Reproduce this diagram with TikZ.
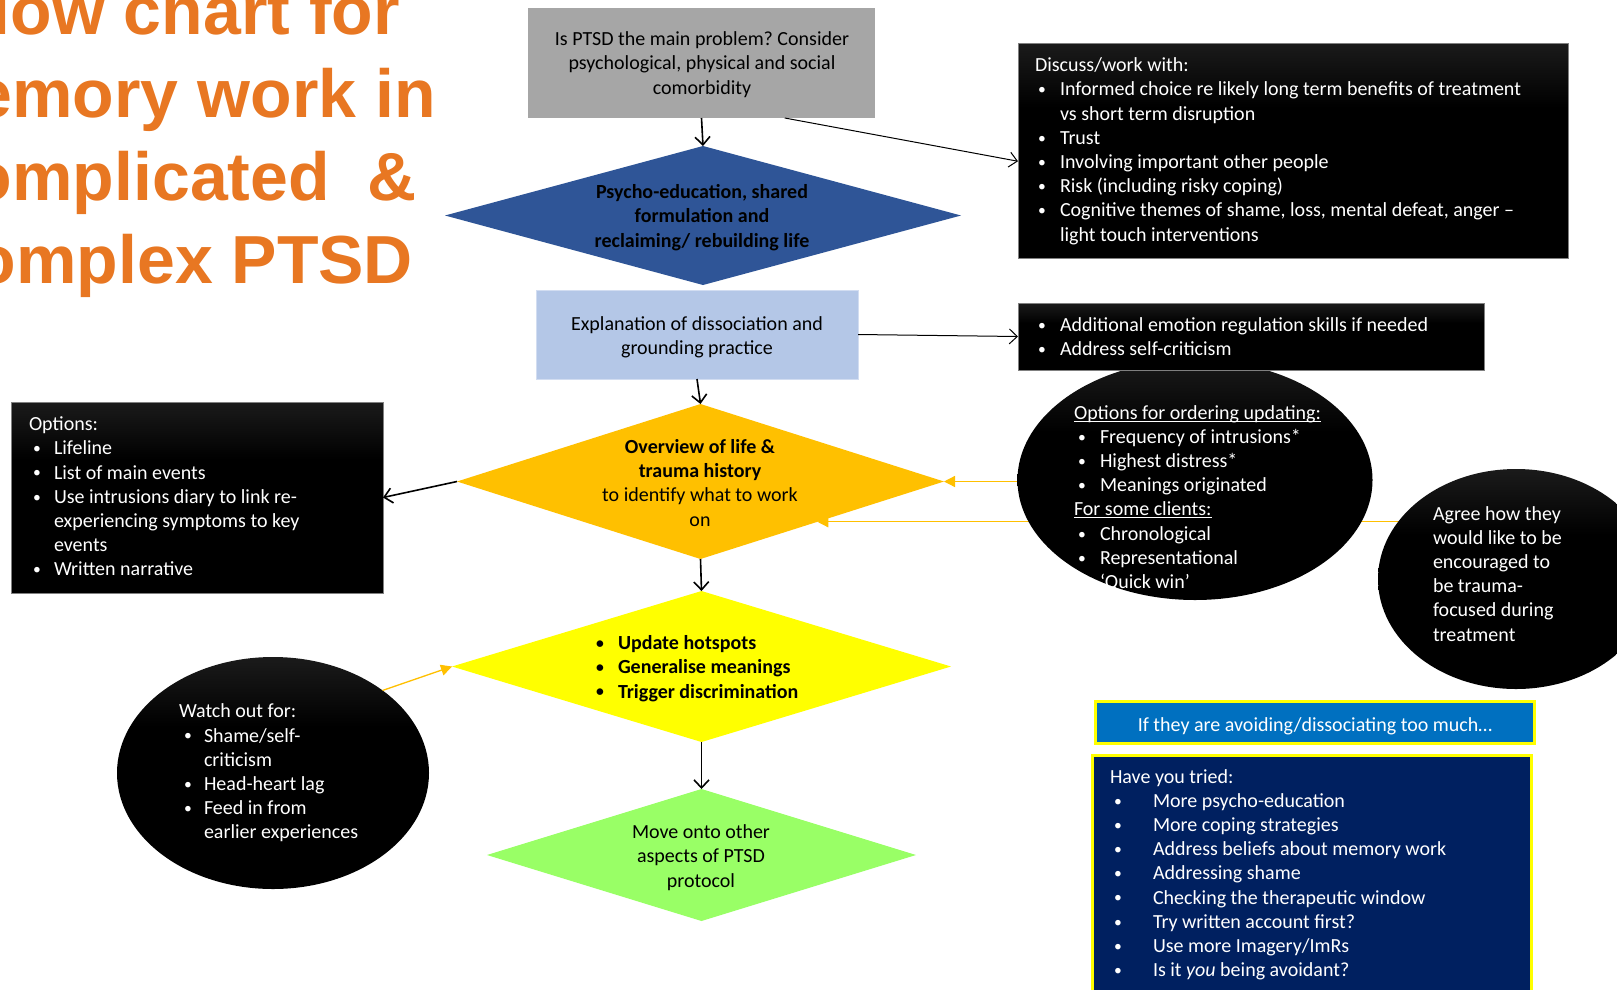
\documentclass[tikz,border=0pt]{standalone}
\usepackage{fontspec}
\setmainfont{Carlito}
\newfontfamily\titlefont{Liberation Sans}
\usetikzlibrary{shapes.geometric,arrows.meta,calc}
\frenchspacing
\definecolor{ttl}{HTML}{E87722}
\definecolor{grayb}{HTML}{A6A6A6}
\definecolor{blued}{HTML}{2F5597}
\definecolor{lblue}{HTML}{B4C7E7}
\definecolor{orng}{HTML}{FFC000}
\definecolor{yell}{HTML}{FFFF00}
\definecolor{grn}{HTML}{99FF66}
\definecolor{hblue}{HTML}{0070C0}
\definecolor{navy}{HTML}{002060}
\definecolor{dkg}{HTML}{474747}
\pgfdeclareverticalshading{blkgrad}{100bp}{color(0bp)=(black); color(60bp)=(black); color(100bp)=(dkg)}
\pgfdeclarelayer{bg}
\pgfdeclarelayer{lines}
\pgfsetlayers{bg,lines,main}
\newcommand\bu[1][22pt]{\makebox[#1][l]{\raisebox{0.12ex}{\scalebox{0.78}{•}}}}
\newcommand\myul[1]{\setbox0\hbox{#1}\rlap{\rule[-2.4pt]{\wd0}{1pt}}\box0}
\newcommand\tc[1]{\begin{tabular}{@{}c@{}}#1\end{tabular}}
\newcommand\tl[1]{\begin{tabular}{@{}l@{}}#1\end{tabular}}
\begin{document}
\frenchspacing
\begin{tikzpicture}[x=1pt,y=-1pt,
  body/.style={font=\fontsize{20}{24.2}\selectfont\frenchspacing, inner sep=0pt, outer sep=0pt, yshift=-3pt},
  wbody/.style={body, text=white},
  rbox/.style={rectangle, inner sep=0pt, outer sep=0pt},
  dia/.style={diamond, inner sep=0pt, outer sep=0pt},
  blackbox/.style={rectangle, inner sep=0pt, outer sep=0pt, shading=blkgrad, draw=black!50, line width=0.8pt},
  blackell/.style={ellipse, inner sep=0pt, outer sep=0pt, shading=blkgrad},
  arr/.style={line width=1.6pt, -{Straight Barb[length=8pt,width=15pt,line width=1.6pt]}},
  tarr/.style={line width=1pt, -{Straight Barb[length=8pt,width=15pt,line width=1pt]}},
  oarr/.style={draw=orng, line width=1.3pt, -{Triangle[length=11pt,width=11pt,fill=orng]}},
]
\useasboundingbox (0,0) rectangle (1617,989);
\begin{pgfonlayer}{bg}
\fill[white] (0,0) rectangle (1617,989);
\end{pgfonlayer}

% title
\node[font=\titlefont\bfseries\fontsize{68}{83.3}\selectfont, text=ttl, inner sep=0pt, anchor=base] (title) at (175,34)
  {\begin{tabular}[t]{@{}c@{}}Flow chart for\\memory work in\\complicated\ \ \&\\complex PTSD\end{tabular}};

% shapes
\node[rbox, fill=grayb, minimum width=347pt, minimum height=110pt] (gray) at (701.5,63) {};
\node[dia, fill=blued, minimum width=516pt, minimum height=139pt] (bd) at (703,215.5) {};
\node[rbox, fill=lblue, draw=lblue!60!white, line width=0.8pt, minimum width=322pt, minimum height=89pt] (lb) at (697,334.5) {};
\node[dia, fill=orng, minimum width=487pt, minimum height=155pt] (od) at (700.5,481.5) {};
\node[dia, fill=yell, minimum width=499pt, minimum height=151pt] (yd) at (701.5,666.5) {};
\node[dia, fill=grn, minimum width=429pt, minimum height=132pt] (gd) at (701.5,855) {};

\node[blackell, minimum width=355pt, minimum height=240pt] (oe) at (1195,480) {};
\node[blackbox, minimum width=550pt, minimum height=215pt] (disc) at (1293,150.5) {};
\node[blackbox, minimum width=466pt, minimum height=67pt] (add) at (1251,336.5) {};
\node[blackbox, minimum width=372pt, minimum height=191pt] (ob) at (197,497.5) {};

\node[blackell, minimum width=276pt, minimum height=220pt] (ae) at (1516,579) {};
\node[blackell, minimum width=312pt, minimum height=232pt] (watch) at (273,773) {};

\node[rbox, fill=hblue, draw=yell, line width=3pt, minimum width=439pt, minimum height=42pt] (hdr) at (1314.5,722) {};
\node[rbox, fill=navy, draw=yell, line width=3pt, minimum width=439pt, minimum height=245pt] (nv) at (1311.5,877.5) {};

% texts
\node[body] (tgray) at (702,62) {\tc{Is PTSD the main problem? Consider\\psychological, physical and social\\comorbidity}};
\node[body, font=\fontsize{20}{24.2}\selectfont\bfseries] (tbd) at (702,215) {\tc{Psycho-education, shared\\formulation and\\reclaiming/ rebuilding life}};
\node[body] (tlb) at (697,335) {\tc{Explanation of dissociation and\\grounding practice}};
\node[body] (tod) at (700,482) {\tc{\textbf{Overview of life \&}\\\textbf{trauma history}\\to identify what to work\\on}};
\node[body, font=\fontsize{20}{24.2}\selectfont\bfseries, anchor=west] (tyd) at (596,666) {\tl{\bu Update hotspots\\\bu Generalise meanings\\\bu Trigger discrimination}};
\node[body] (tgd) at (701,855) {\tc{Move onto other\\aspects of PTSD\\protocol}};

\node[wbody, anchor=west] (tdisc) at (1035,148.5) {\tl{Discuss/work with:\\
\hspace*{3pt}\bu Informed choice re likely long term benefits of treatment\\
\hspace*{25pt}vs short term disruption\\
\hspace*{3pt}\bu Trust\\
\hspace*{3pt}\bu Involving important other people\\
\hspace*{3pt}\bu Risk (including risky coping)\\
\hspace*{3pt}\bu Cognitive themes of shame, loss, mental defeat, anger –\\
\hspace*{25pt}light touch interventions}};

\node[wbody, anchor=west] (tadd) at (1038,335.6) {\tl{\bu Additional emotion regulation skills if needed\\\bu Address self-criticism}};

\node[wbody, anchor=west] (tob) at (29,495.4) {\tl{Options:\\
\hspace*{4pt}\bu[21pt]Lifeline\\
\hspace*{4pt}\bu[21pt]List of main events\\
\hspace*{4pt}\bu[21pt]Use intrusions diary to link re-\\
\hspace*{25pt}experiencing symptoms to key\\
\hspace*{25pt}events\\
\hspace*{4pt}\bu[21pt]Written narrative}};

\node[wbody, anchor=west] (toe) at (1074,496) {\tl{\myul{Options for ordering updating:}\\
\hspace*{4pt}\bu Frequency of intrusions*\\
\hspace*{4pt}\bu Highest distress*\\
\hspace*{4pt}\bu Meanings originated\\
\myul{For some clients:}\\
\hspace*{4pt}\bu Chronological\\
\hspace*{4pt}\bu Representational\\
\hspace*{26pt}‘Quick win’}};

\node[wbody, anchor=west] (tae) at (1433,572.7) {\tl{Agree how they\\would like to be\\encouraged to\\be trauma-\\focused during\\treatment}};

\node[wbody, anchor=west] (twatch) at (179,770.5) {\tl{Watch out for:\\
\hspace*{5pt}\bu[20pt]Shame/self-\\
\hspace*{25pt}criticism\\
\hspace*{5pt}\bu[20pt]Head-heart lag\\
\hspace*{5pt}\bu[20pt]Feed in from\\
\hspace*{25pt}earlier experiences}};

\node[wbody] (thdr) at (1315,723) {If they are avoiding/dissociating too much…};

\node[wbody, anchor=west] (tnv) at (1110,872) {\tl{Have you tried:\\
\hspace*{4pt}\bu[39pt]More psycho-education\\
\hspace*{4pt}\bu[39pt]More coping strategies\\
\hspace*{4pt}\bu[39pt]Address beliefs about memory work\\
\hspace*{4pt}\bu[39pt]Addressing shame\\
\hspace*{4pt}\bu[39pt]Checking the therapeutic window\\
\hspace*{4pt}\bu[39pt]Try written account first?\\
\hspace*{4pt}\bu[39pt]Use more Imagery/ImRs\\
\hspace*{4pt}\bu[39pt]Is it \textit{you} being avoidant?}};

% connectors
\coordinate (gs) at ($(gray.south west)!0.74!(gray.south east)$);
\coordinate (dw) at ($(disc.north west)!0.55!(disc.south west)$);
\coordinate (p) at ($(od.east)!0.52!(od.south)$);
\draw[arr] (gray.south) -- (bd.north);
\draw[tarr] (gs) -- (dw);
\draw[tarr] (lb.east) -- (add.west);
\draw[arr] (lb.south) -- (od.north);
\draw[arr] (od.west) -- (ob.east);
\draw[arr] (od.south) -- (yd.north);
\draw[arr] (yd.south) -- (gd.north);
\begin{pgfonlayer}{lines}
\draw[oarr] (oe.center |- od.east) -- (od.east);
\draw[oarr] (ae.center |- p) -- (p);
\end{pgfonlayer}
\draw[oarr] (watch.37) -- (yd.west);
\end{tikzpicture}
\end{document}
